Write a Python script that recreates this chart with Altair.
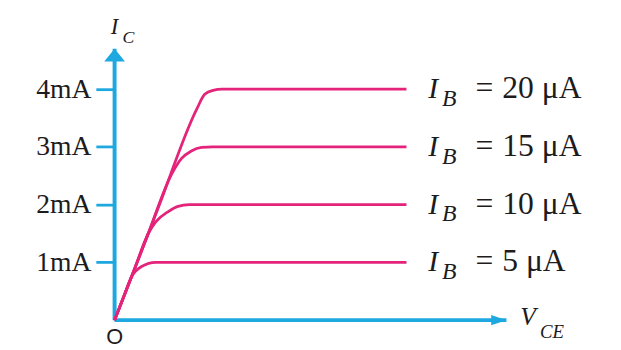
import altair as alt
import pandas as pd

BLUE = "#1ea8e0"
PINK = "#e4237a"
TEXT = "#1e1b1c"
SERIF = "Liberation Serif"

# base currents (µA) and saturation collector currents (mA)
IB_UA = [5, 10, 15, 20]
IC_SAT_MA = [1, 2, 3, 4]
Y_TICKS = [1, 2, 3, 4]

# characteristic curves (V_CE in arbitrary units, I_C in mA)
VCE_5 = [0, 0.25, 0.44, 0.69, 1.05, 7.45]
IC_5 = [0, 0.435, 0.76, 0.93, 1.0, 1.0]
VCE_10 = [0, 0.5, 0.86, 1.05, 1.37, 1.62, 1.9, 7.45]
IC_10 = [0, 0.87, 1.5, 1.7, 1.88, 1.97, 2.0, 2.0]
VCE_15 = [0, 0.8, 1.45, 1.71, 1.96, 2.22, 2.5, 7.45]
IC_15 = [0, 1.39, 2.52, 2.8, 2.93, 2.99, 3.0, 3.0]
VCE_20 = [0, 1.1, 2.1, 2.3, 2.51, 2.75, 7.45]
IC_20 = [0, 1.92, 3.66, 3.91, 3.98, 4.0, 4.0]

X_MAX = 10
Y_MAX = 4.7
V_END = 7.45

rows = []
for ib, vs, ics in [(5, VCE_5, IC_5), (10, VCE_10, IC_10), (15, VCE_15, IC_15), (20, VCE_20, IC_20)]:
    for i, (v, c) in enumerate(zip(vs, ics)):
        rows.append({"ib": ib, "order": i, "v": v, "ic": c})
curves_df = pd.DataFrame(rows)

labels_df = pd.DataFrame({
    "ib": IB_UA,
    "ic": IC_SAT_MA,
    "v": [V_END] * len(IB_UA),
    "val": [f"{b} μA" for b in IB_UA],
})

axes_df = pd.DataFrame({"axis": ["x", "x", "y", "y"], "v": [0, X_MAX, 0, 0], "ic": [0, 0, 0, Y_MAX]})
arrow_y_df = pd.DataFrame({"v": [0], "ic": [Y_MAX]})
arrow_x_df = pd.DataFrame({"v": [X_MAX], "ic": [0]})
origin_df = pd.DataFrame({"v": [0], "ic": [0]})

xs = alt.Scale(domain=[0, X_MAX], nice=False, zero=True)
ys = alt.Scale(domain=[0, Y_MAX], nice=False, zero=True)
yaxis = alt.Axis(
    values=Y_TICKS, labelExpr="datum.value + 'mA'", title=None,
    domain=False, grid=False, ticks=True, tickSize=19, tickWidth=2.8, tickColor=BLUE,
    labelFont=SERIF, labelFontSize=28, labelColor=TEXT, labelPadding=5,
)
X = alt.X("v:Q", scale=xs, axis=None)
Y = alt.Y("ic:Q", scale=ys, axis=yaxis)

axes = alt.Chart(axes_df).mark_line(color=BLUE, strokeWidth=4).encode(x=X, y=Y, detail="axis:N")
arrow_y = alt.Chart(arrow_y_df).mark_point(
    shape="M0,0L-1.5,1.85L1.5,1.85Z", size=196, filled=True, color=BLUE, opacity=1, strokeWidth=0
).encode(x=X, y=Y)
arrow_x = alt.Chart(arrow_x_df).mark_point(
    shape="M0,0L-2.2,-0.75L-2.2,0.75Z", size=196, filled=True, color=BLUE, opacity=1, strokeWidth=0
).encode(x=X, y=Y)

curves = alt.Chart(curves_df).mark_line(
    color=PINK, strokeWidth=2.8, interpolate="monotone"
).encode(x=X, y=Y, detail="ib:N", order="order:Q")

lab_I = alt.Chart(labels_df).mark_text(
    text="I", font=SERIF, fontStyle="italic", fontSize=30, align="left", baseline="alphabetic",
    dx=22, dy=9, color=TEXT).encode(x=X, y=Y)
lab_B = alt.Chart(labels_df).mark_text(
    text="B", font=SERIF, fontStyle="italic", fontSize=24, align="left", baseline="alphabetic",
    dx=36, dy=17, color=TEXT).encode(x=X, y=Y)
lab_eq = alt.Chart(labels_df).mark_text(
    text="=", font=SERIF, fontSize=32, align="center", baseline="alphabetic",
    dx=79, dy=9, color=TEXT).encode(x=X, y=Y)
lab_val = alt.Chart(labels_df).mark_text(
    font=SERIF, fontSize=32, align="left", baseline="alphabetic",
    dx=97, dy=9, color=TEXT).encode(x=X, y=Y, text="val:N")

ic_I = alt.Chart(arrow_y_df).mark_text(
    text="I", font=SERIF, fontStyle="italic", fontSize=23, align="left", baseline="alphabetic",
    dx=-4, dy=-15, color=TEXT).encode(x=X, y=Y)
ic_C = alt.Chart(arrow_y_df).mark_text(
    text="C", font=SERIF, fontStyle="italic", fontSize=18, align="left", baseline="alphabetic",
    dx=8, dy=-6, color=TEXT).encode(x=X, y=Y)
v_V = alt.Chart(arrow_x_df).mark_text(
    text="V", font=SERIF, fontStyle="italic", fontSize=26, align="left", baseline="alphabetic",
    dx=14, dy=5, color=TEXT).encode(x=X, y=Y)
v_CE = alt.Chart(arrow_x_df).mark_text(
    text="CE", font=SERIF, fontStyle="italic", fontSize=19, align="left", baseline="alphabetic",
    dx=34, dy=18, color=TEXT).encode(x=X, y=Y)
origin = alt.Chart(origin_df).mark_text(
    text="O", font="Liberation Sans", fontSize=22, align="center", baseline="alphabetic",
    dx=0, dy=24, color=TEXT).encode(x=X, y=Y)

chart = alt.layer(
    axes, arrow_y, arrow_x, curves, lab_I, lab_B, lab_eq, lab_val, ic_I, ic_C, v_V, v_CE, origin
).properties(
    width=397, height=275,
    autosize="none",
    padding={"left": 108, "top": 39, "right": 108, "bottom": 28},
    background="white",
).configure_view(stroke=None)

chart.save("out.html", embed_options={"renderer": "svg", "actions": False})
